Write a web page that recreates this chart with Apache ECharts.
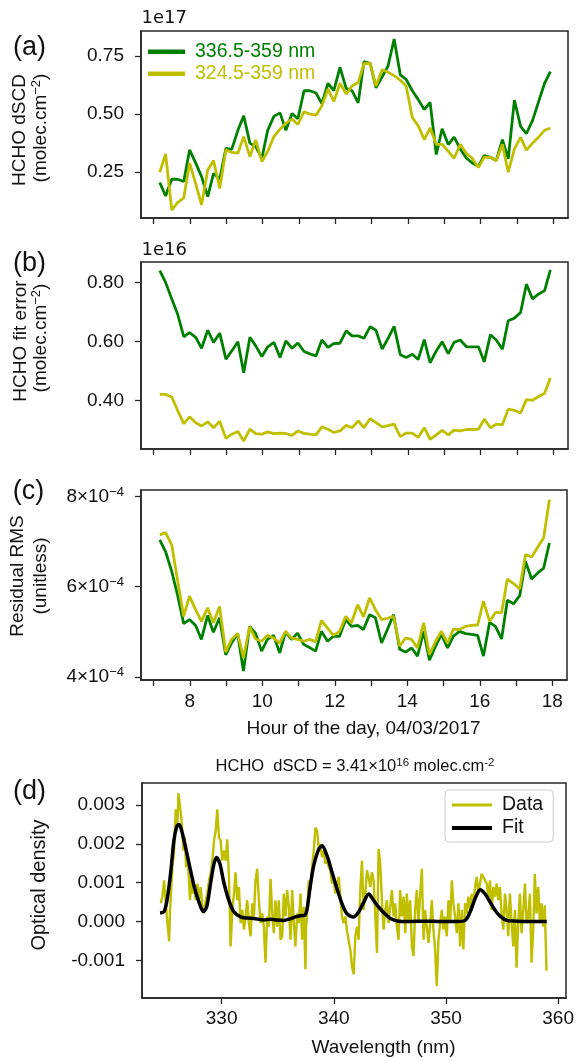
<!DOCTYPE html>
<html>
<head>
<meta charset="utf-8">
<script src="https://cdn.jsdelivr.net/npm/echarts@6/dist/echarts.min.js"></script>
<style>
  html, body { margin: 0; padding: 0; background: #fff; }
  #chart { width: 576px; height: 1061px; }
</style>
</head>
<body>
<div id="chart"></div>
<script>
// Measurement times (hour of the day, 04/03/2017)
const hours = [7.17, 7.33, 7.50, 7.66, 7.83, 7.99, 8.16, 8.32, 8.49, 8.65, 8.82, 8.99, 9.15, 9.32, 9.48, 9.65,
  9.81, 9.98, 10.14, 10.31, 10.48, 10.64, 10.81, 10.97, 11.14, 11.30, 11.47, 11.63, 11.80, 11.96, 12.13, 12.30,
  12.46, 12.63, 12.79, 12.96, 13.12, 13.29, 13.45, 13.62, 13.79, 13.95, 14.12, 14.28, 14.45, 14.61, 14.78, 14.94,
  15.11, 15.27, 15.44, 15.61, 15.77, 15.94, 16.10, 16.27, 16.43, 16.60, 16.76, 16.93, 17.10, 17.26, 17.43, 17.59,
  17.76, 17.92];

// (a) HCHO dSCD, units of 1e17 molec.cm-2
const dscd336 = [0.206, 0.148, 0.22, 0.22, 0.21, 0.346, 0.289, 0.231, 0.145, 0.245, 0.22, 0.353, 0.348, 0.43, 0.492,
  0.375, 0.36, 0.31, 0.43, 0.49, 0.505, 0.43, 0.502, 0.48, 0.60, 0.60, 0.59, 0.545, 0.632, 0.60, 0.70, 0.61, 0.60,
  0.548, 0.725, 0.718, 0.613, 0.66, 0.705, 0.822, 0.668, 0.649, 0.60, 0.563, 0.519, 0.55, 0.326, 0.437, 0.369, 0.401,
  0.35, 0.31, 0.29, 0.276, 0.322, 0.314, 0.30, 0.39, 0.307, 0.56, 0.447, 0.416, 0.473, 0.55, 0.632, 0.682];
const dscd324 = [0.25, 0.329, 0.087, 0.12, 0.14, 0.29, 0.20, 0.11, 0.26, 0.30, 0.18, 0.346, 0.335, 0.332, 0.403,
  0.317, 0.389, 0.296, 0.339, 0.403, 0.435, 0.461, 0.478, 0.455, 0.51, 0.50, 0.495, 0.535, 0.607, 0.554, 0.632, 0.586,
  0.62, 0.635, 0.717, 0.718, 0.62, 0.69, 0.68, 0.665, 0.645, 0.62, 0.485, 0.45, 0.39, 0.44, 0.37, 0.37, 0.34, 0.31,
  0.37, 0.33, 0.31, 0.27, 0.315, 0.314, 0.30, 0.37, 0.25, 0.35, 0.40, 0.345, 0.375, 0.40, 0.43, 0.44];

// (b) HCHO fit error, units of 1e16 molec.cm-2
const err336 = [0.84, 0.80, 0.744, 0.693, 0.616, 0.63, 0.614, 0.577, 0.638, 0.597, 0.628, 0.54, 0.568, 0.599, 0.494,
  0.614, 0.585, 0.549, 0.582, 0.597, 0.546, 0.602, 0.577, 0.595, 0.566, 0.558, 0.551, 0.605, 0.58, 0.593, 0.594,
  0.636, 0.619, 0.619, 0.611, 0.65, 0.638, 0.574, 0.61, 0.651, 0.555, 0.546, 0.557, 0.539, 0.606, 0.528, 0.568,
  0.599, 0.559, 0.597, 0.605, 0.582, 0.582, 0.582, 0.531, 0.623, 0.605, 0.574, 0.67, 0.679, 0.698, 0.794, 0.744,
  0.76, 0.772, 0.842];
const err324 = [0.421, 0.421, 0.412, 0.367, 0.322, 0.345, 0.325, 0.314, 0.328, 0.308, 0.33, 0.272, 0.286, 0.295,
  0.263, 0.303, 0.288, 0.286, 0.294, 0.288, 0.290, 0.288, 0.282, 0.297, 0.289, 0.286, 0.284, 0.311, 0.303, 0.292,
  0.297, 0.316, 0.308, 0.331, 0.308, 0.339, 0.325, 0.311, 0.315, 0.320, 0.278, 0.290, 0.290, 0.275, 0.308, 0.269,
  0.284, 0.299, 0.284, 0.300, 0.297, 0.302, 0.302, 0.303, 0.337, 0.308, 0.320, 0.318, 0.371, 0.367, 0.358, 0.403,
  0.401, 0.413, 0.425, 0.476];

// (c) Residual RMS, units of 1e-4
const rms336 = [7.04, 6.78, 6.34, 5.82, 5.18, 5.27, 5.14, 4.83, 5.36, 4.99, 5.31, 4.49, 4.75, 4.95, 4.13, 5.12, 4.97,
  4.57, 4.83, 4.92, 4.53, 4.99, 4.83, 4.97, 4.72, 4.65, 4.57, 5.01, 4.79, 4.90, 4.90, 5.27, 5.12, 5.14, 5.05, 5.38,
  5.31, 4.75, 5.05, 5.38, 4.61, 4.55, 4.64, 4.46, 5.01, 4.37, 4.68, 4.94, 4.64, 4.90, 5.01, 4.96, 4.94, 4.92, 4.46,
  5.21, 5.12, 4.84, 5.70, 5.62, 5.80, 6.56, 6.17, 6.30, 6.41, 6.97];
const rms324 = [7.15, 7.20, 6.93, 6.15, 5.34, 5.79, 5.49, 5.23, 5.53, 5.20, 5.56, 4.55, 4.83, 4.96, 4.42, 5.11, 4.84,
  4.79, 4.92, 4.86, 4.75, 5.01, 4.86, 4.83, 4.79, 4.83, 4.78, 5.25, 5.08, 4.92, 5.01, 5.34, 5.20, 5.60, 5.33, 5.75,
  5.49, 5.27, 5.30, 5.34, 4.68, 4.86, 4.83, 4.64, 5.20, 4.49, 4.79, 5.01, 4.75, 5.06, 5.05, 5.12, 5.14, 5.15, 5.68,
  5.23, 5.43, 5.42, 6.17, 6.07, 5.95, 6.71, 6.66, 6.87, 7.08, 7.93];

// (d) Optical density spectrum (nm, units of 1e-3)
const odWavelength = [
  324.57, 324.72, 324.87, 325.02, 325.11, 325.32, 325.40, 325.61, 325.76, 325.91,
  326.06, 326.15, 326.29, 326.41, 326.50, 326.59, 326.71, 326.83, 326.95, 327.09,
  327.18, 327.30, 327.42, 327.54, 327.69, 327.84, 327.98, 328.13, 328.28, 328.43,
  328.58, 328.72, 328.87, 329.02, 329.17, 329.32, 329.47, 329.61, 329.76, 329.91,
  330.06, 330.21, 330.36, 330.50, 330.65, 330.80, 330.95, 331.10, 331.24, 331.39,
  331.54, 331.69, 331.84, 331.99, 332.13, 332.28, 332.43, 332.58, 332.73, 332.88,
  333.02, 333.17, 333.32, 333.47, 333.62, 333.76, 333.91, 334.06, 334.21, 334.36,
  334.51, 334.65, 334.80, 334.95, 335.10, 335.25, 335.40, 335.54, 335.69, 335.84,
  335.99, 336.14, 336.29, 336.43, 336.58, 336.73, 336.88, 337.03, 337.17, 337.32,
  337.47, 337.53, 337.62, 337.77, 337.91, 338.06, 338.21, 338.36, 338.51, 338.66,
  338.80, 338.95, 339.10, 339.25, 339.40, 339.55, 339.69, 339.84, 339.99, 340.14,
  340.29, 340.44, 340.58, 340.73, 340.88, 341.03, 341.18, 341.32, 341.47, 341.62,
  341.77, 341.92, 342.07, 342.21, 342.36, 342.51, 342.66, 342.81, 342.96, 343.10,
  343.25, 343.40, 343.55, 343.70, 343.85, 343.99, 344.14, 344.29, 344.44, 344.59,
  344.73, 344.88, 345.03, 345.18, 345.33, 345.48, 345.62, 345.77, 345.92, 346.07,
  346.22, 346.37, 346.51, 346.66, 346.81, 346.96, 347.11, 347.25, 347.40, 347.55,
  347.70, 347.85, 348.00, 348.14, 348.29, 348.44, 348.59, 348.74, 348.88, 349.03,
  349.18, 349.33, 349.48, 349.63, 349.77, 349.92, 350.07, 350.22, 350.37, 350.52,
  350.66, 350.81, 350.96, 351.11, 351.26, 351.40, 351.55, 351.70, 351.85, 352.00,
  352.15, 352.29, 352.44, 352.59, 352.74, 352.89, 353.03, 353.18, 353.33, 353.48,
  353.63, 353.78, 353.92, 354.07, 354.22, 354.37, 354.52, 354.66, 354.81, 354.96,
  355.11, 355.26, 355.41, 355.55, 355.70, 355.85, 356.00, 356.15, 356.29, 356.44,
  356.59, 356.74, 356.89, 357.04, 357.18, 357.33, 357.48, 357.63, 357.78, 357.92,
  358.07, 358.22, 358.37, 358.52, 358.66, 358.81, 358.96];
const odData = [
  0.47, 0.64, 1.06, 1.10, 0.13, -0.51, 0.30, 1.40, 1.83, 2.89,
  2.50, 3.31, 3.35, 2.67, 2.25, 1.83, 2.17, 1.40, 1.74, 1.06,
  0.55, 1.06, 0.72, 0.89, 0.55, 0.98, 0.59, 0.89, 0.38, 0.21,
  0.55, 0.72, 1.06, 1.23, 1.57, 2.08, 2.34, 2.89, 2.17, 2.08,
  1.57, 1.83, 1.57, 2.12, 1.15, -0.64, 0.30, 0.72, 1.27, 0.55,
  0.89, -0.04, 0.30, -0.21, 0.13, 0.55, -0.04, -0.38, 0.47, 0.13,
  1.06, 1.36, 0.55, -0.04, 0.21, -0.13, -1.06, 0.13, -0.13, 1.10,
  0.21, -0.30, 0.55, -0.13, 0.55, -0.47, -0.38, 0.72, 0.13, 0.81,
  0.38, -0.47, 0.81, -0.04, -0.64, 0.21, -0.04, 0.72, -0.47, 0.38,
  -1.23, -0.13, 0.21, 1.06, 0.81, 1.40, 1.83, 2.42, 2.34, 1.87,
  2.00, 1.66, 1.83, 1.49, 1.57, 1.40, 1.32, 0.98, 1.06, 0.72,
  0.98, 1.15, 0.64, 0.13, -0.04, 0.13, -0.25, -0.30, -0.72, -1.15,
  -1.36, -0.38, -0.13, -0.47, 0.81, 1.57, 0.30, 0.72, 1.32, 1.15,
  0.89, 1.27, 1.06, 0.13, -0.81, 1.87, 1.49, 0.55, -0.21, 0.30,
  0.55, -0.04, 0.38, 0.81, 0.13, 0.47, -0.13, -0.47, 0.81, 0.13,
  0.64, -0.30, 0.72, -0.04, 0.55, -0.64, -0.89, 0.30, 0.81, -0.04,
  0.72, 1.36, -0.47, 0.30, -0.13, -0.55, -0.04, 0.55, -0.21, -0.72,
  -1.66, -0.47, -0.04, 0.30, -0.21, 0.13, -0.38, 0.55, -0.04, 1.06,
  0.47, 0.13, -0.30, 0.47, -0.64, 0.30, -0.72, 0.47, 0.21, 0.64,
  0.30, 0.72, 0.47, 0.89, 1.15, 0.72, 0.98, 1.23, 1.23, 1.06,
  0.98, 0.64, 1.06, 0.30, 0.89, 0.64, 0.98, 0.55, 0.89, 0.21,
  -0.21, 0.72, 0.30, -0.38, 0.72, -0.04, -0.64, 0.30, -1.19, -0.04,
  0.72, -0.30, 0.30, 0.98, -0.04, 0.13, 0.72, -1.06, -0.21, 1.23,
  0.21, 0.89, -0.04, 0.47, -0.13, 0.42, -1.27];
const fitWavelength = [324.51, 324.87, 325.16, 325.46, 325.75, 326.0, 326.2, 326.4, 326.64, 327.09, 327.53, 327.98,
  328.36, 328.66, 329.02, 329.31, 329.55, 329.85, 330.2, 330.65, 331.09, 331.69, 332.28, 332.87, 333.76, 334.36,
  334.95, 335.54, 335.99, 336.58, 337.02, 337.41, 337.62, 337.91, 338.21, 338.65, 338.95, 339.4, 339.84, 340.29,
  340.73, 341.18, 341.78, 342.22, 342.67, 343.11, 343.56, 344.0, 344.45, 345.04, 345.78, 346.52, 348.3, 349.49,
  350.97, 351.71, 352.16, 352.6, 353.05, 353.49, 353.93, 354.38, 354.82, 355.42, 356.31, 357.2, 358.98];
const fitOD = [0.22, 0.26, 0.6, 1.27, 2.1, 2.45, 2.5, 2.38, 2.1, 1.5, 0.93, 0.5, 0.26, 0.37, 1.0, 1.48, 1.65, 1.48,
  1.0, 0.54, 0.25, 0.12, 0.09, 0.08, 0.04, 0.06, 0.04, 0.03, 0.06, 0.12, 0.15, 0.16, 0.33, 0.93, 1.44, 1.86, 1.95,
  1.69, 1.27, 0.84, 0.46, 0.2, 0.12, 0.25, 0.5, 0.71, 0.54, 0.37, 0.23, 0.08, 0.01, 0.0, 0.01, 0.0, 0.0, 0.03, 0.25,
  0.59, 0.82, 0.71, 0.5, 0.29, 0.14, 0.03, 0.01, 0.0, 0.0];

// Axis ticks
const hourTicks = [7, 8, 9, 10, 11, 12, 13, 14, 15, 16, 17, 18];
const hourLabels = [8, 10, 12, 14, 16, 18];
const dscdTicks = [0.25, 0.50, 0.75];
const errTicks = [0.40, 0.60, 0.80];
const rmsTicks = [4, 6, 8];
const odTicks = [-1, 0, 1, 2, 3];
const wlTicks = [330, 340, 350, 360];

const SERIES_336 = '336.5-359 nm';
const SERIES_324 = '324.5-359 nm';
const GREEN = '#008000';
const YELLOW = '#bfbf00';
const INK = '#262626';
const TEXT = '#111';
const FONT = '"Liberation Sans", Arial, Helvetica, sans-serif';
const SUP = { sup: { fontSize: 13, fontFamily: FONT, verticalAlign: 'bottom', padding: [0, 0, 9, 0], color: TEXT } };

// Legend line swatches: a centred bar inside a fixed-height box
const bar = (w, h, t) => {
  const y0 = (h - t) / 2, y1 = y0 + t;
  return `path://M0,0H${w}V0.01H0Z M0,${y0}H${w}V${y1}H0Z M0,${h}H${w}V${h + 0.01}H0Z`;
};

const pairs = (xs, ys) => xs.map((x, i) => [x, ys[i]]);

function boxGrid(left, top, width, height) {
  return { left, top, width, height, show: true, borderColor: INK, borderWidth: 1.5,
    backgroundColor: '#fff', outerBoundsMode: 'none', containLabel: false };
}

function axis(gridIndex, min, max, ticks, labels, opts) {
  return {
    type: 'value', gridIndex, min, max,
    axisLine: { show: true, onZero: false, lineStyle: { color: INK, width: 1.5 } },
    axisTick: { show: true, length: 6, customValues: ticks, lineStyle: { color: INK, width: 1.3 } },
    axisLabel: Object.assign({ show: !!labels, customValues: labels || ticks, fontSize: 19, fontFamily: FONT,
      color: TEXT, rich: SUP }, opts || {}),
    splitLine: { show: false }
  };
}

const xLabelOpts = { margin: 12 };
const yLabelOpts = (fmt) => ({ margin: 17, formatter: fmt });

function lineSeries(name, idx, xs, ys, color, width) {
  return { type: 'line', name, xAxisIndex: idx, yAxisIndex: idx, data: pairs(xs, ys), symbol: 'none',
    showSymbol: false, lineStyle: { color, width }, itemStyle: { color }, z: 3 };
}

function label(text, x, y, size, extra) {
  return { type: 'text', x, y, silent: true, rotation: (extra && extra.rotation) || 0,
    style: Object.assign({ text, fontSize: size, fontFamily: FONT, fill: TEXT, align: 'center',
      verticalAlign: 'middle', rich: (extra && extra.rich) || SUP }, (extra && extra.style) || {}) };
}
const vertical = { rotation: Math.PI / 2 };

const option = {
  animation: false,
  backgroundColor: '#fff',
  textStyle: { fontFamily: FONT },
  grid: [
    boxGrid(141, 31, 427, 187),
    boxGrid(141, 262, 427, 187),
    boxGrid(141, 490, 426, 190),
    boxGrid(142, 783, 424, 215)
  ],
  xAxis: [
    axis(0, 6.653, 18.405, hourTicks, null, xLabelOpts),
    axis(1, 6.653, 18.405, hourTicks, null, xLabelOpts),
    axis(2, 6.653, 18.405, hourTicks, hourLabels, xLabelOpts),
    axis(3, 322.9, 360.7, wlTicks, wlTicks, { margin: 11 })
  ],
  yAxis: [
    axis(0, 0.0535, 0.8565, dscdTicks, dscdTicks, yLabelOpts(v => v.toFixed(2))),
    axis(1, 0.236, 0.869, errTicks, errTicks, yLabelOpts(v => v.toFixed(2))),
    axis(2, 3.93, 8.145, rmsTicks, rmsTicks, yLabelOpts(v => v + '×10{sup|−4}')),
    axis(3, -1.97, 3.57, odTicks, odTicks, yLabelOpts(v => (v / 1000).toFixed(3)))
  ],
  legend: [
    {
      left: 148, top: 41.7, orient: 'vertical', itemWidth: 37, itemHeight: 12, itemGap: 2,
      padding: 0, selectedMode: false,
      data: [
        { name: SERIES_336, icon: bar(37, 12, 4.5), textStyle: { color: GREEN } },
        { name: SERIES_324, icon: bar(37, 12, 4.5), textStyle: { color: YELLOW } }
      ],
      textStyle: { fontSize: 19.5, fontFamily: FONT, padding: [0, 0, 0, 5] }
    },
    {
      left: 445, top: 790, orient: 'vertical', itemWidth: 40, itemHeight: 14, itemGap: 3,
      selectedMode: false,
      backgroundColor: 'rgba(255,255,255,0.85)', borderColor: '#cccccc', borderWidth: 1, borderRadius: 4,
      padding: [5, 10, 4, 7],
      data: [
        { name: 'Data', icon: bar(40, 14, 2.8) },
        { name: 'Fit', icon: bar(40, 14, 4.2) }
      ],
      textStyle: { fontSize: 19.5, fontFamily: FONT, color: TEXT, padding: [0, 0, 0, 5] }
    }
  ],
  series: [
    lineSeries(SERIES_336, 0, hours, dscd336, GREEN, 2.8),
    lineSeries(SERIES_324, 0, hours, dscd324, YELLOW, 2.8),
    lineSeries(SERIES_336, 1, hours, err336, GREEN, 2.8),
    lineSeries(SERIES_324, 1, hours, err324, YELLOW, 2.8),
    lineSeries(SERIES_336, 2, hours, rms336, GREEN, 2.8),
    lineSeries(SERIES_324, 2, hours, rms324, YELLOW, 2.8),
    lineSeries('Data', 3, odWavelength, odData, YELLOW, 2.4),
    Object.assign(lineSeries('Fit', 3, fitWavelength, fitOD, '#000', 3.5), { smooth: 0.3, z: 4 })
  ],
  graphic: [
    label('(a)', 29.5, 48, 27),
    label('(b)', 29.5, 264, 27),
    label('(c)', 28.5, 492, 27),
    label('(d)', 29.5, 792, 27),
    label('1e17', 141.5, 18.5, 18, { style: { align: 'left', fontFamily: '"DejaVu Sans", sans-serif' } }),
    label('1e16', 141.5, 250.5, 18, { style: { align: 'left', fontFamily: '"DejaVu Sans", sans-serif' } }),
    label('HCHO dSCD', 20, 130, 19, vertical),
    label('(molec.cm{sup|−2})', 41, 128, 19, vertical),
    label('HCHO fit error', 20.3, 341, 19, vertical),
    label('(molec.cm{sup|−2})', 41, 338, 19, vertical),
    label('Residual RMS', 17.5, 576, 19, vertical),
    label('(unitless)', 40.5, 576, 19, vertical),
    label('Optical density', 39.5, 885, 20, vertical),
    label('Hour of the day, 04/03/2017', 363.5, 729, 19),
    label('Wavelength (nm)', 383.5, 1048, 19),
    label('HCHO  dSCD = 3.41×10{s|16} molec.cm{s|-2}', 355, 766, 16.5,
      { rich: { s: { fontSize: 11.5, fontFamily: FONT, verticalAlign: 'bottom', padding: [0, 0, 7, 0], color: TEXT } } })
  ]
};

const chart = echarts.init(document.getElementById('chart'), null, { renderer: 'canvas' });
chart.setOption(option);
</script>
</body>
</html>
